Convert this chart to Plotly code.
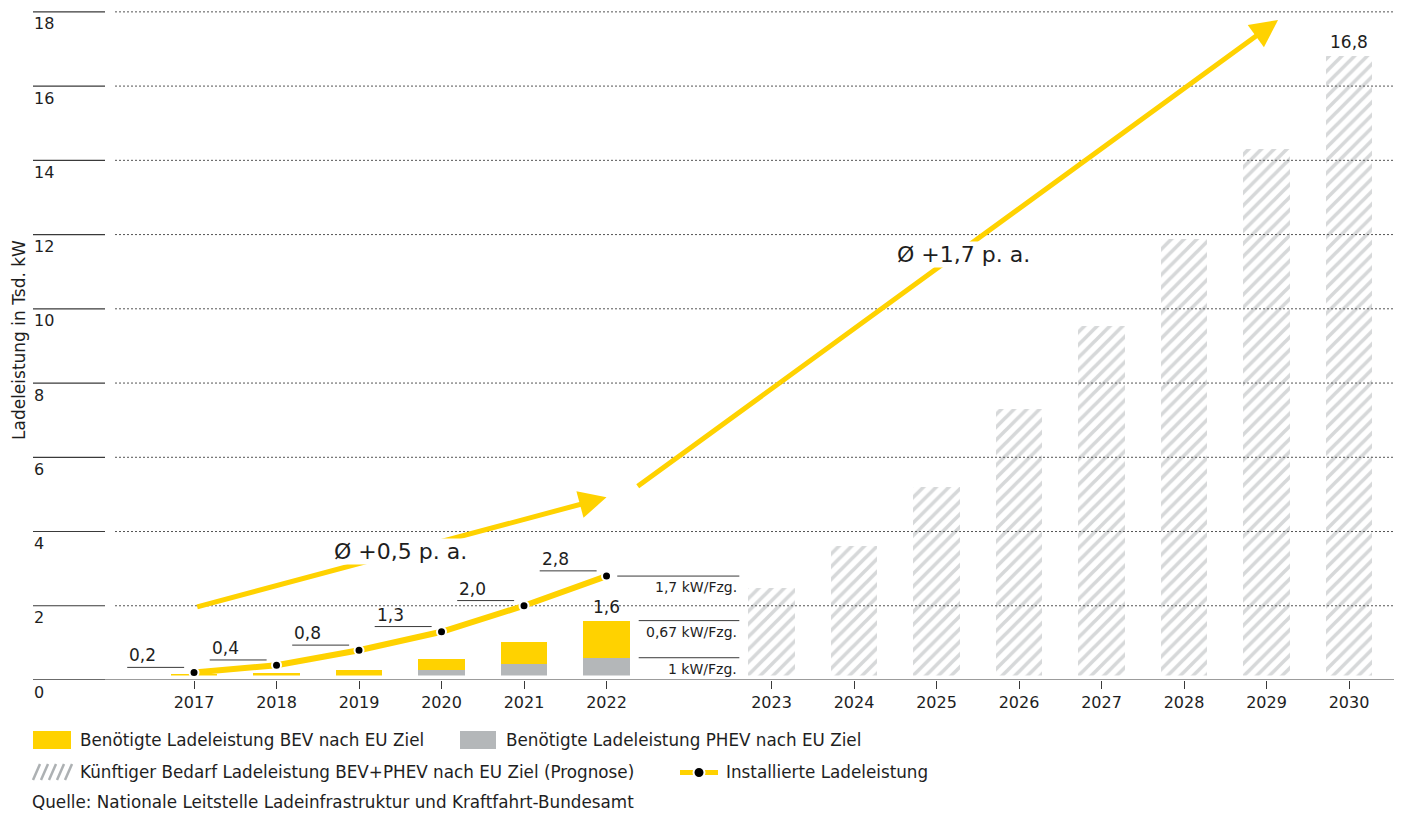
import plotly.graph_objects as go

# --- data -------------------------------------------------------------
hist_years = ["2017", "2018", "2019", "2020", "2021", "2022"]
prog_years = ["2023", "2024", "2025", "2026", "2027", "2028", "2029", "2030"]
bev = [0.15, 0.17, 0.24, 0.30, 0.60, 1.00]          # Tsd. kW
phev = [0.02, 0.02, 0.04, 0.26, 0.42, 0.60]
prognose = [2.47, 3.60, 5.19, 7.29, 9.53, 11.87, 14.30, 16.8]
installiert = [0.2, 0.4, 0.8, 1.3, 2.0, 2.8]
kw_pro_fzg = ["1,7 kW/Fzg.", "0,67 kW/Fzg.", "1 kW/Fzg."]
y_ticks = [0, 2, 4, 6, 8, 10, 12, 14, 16, 18]

YELLOW = "#FFD200"
GRAY = "#B4B7B9"
HATCH = "#ADB1B3"
TXT = "#1E1E1E"
LINE = "#3A3A3A"
FONT = "DejaVu Sans"

# page has an 8px body margin, so the figure is a bit smaller than the window
OFF = 8
W, H = 1394, 805
L, R, T, B = 107, 4, 2, 133
PW, PH = W - L - R, H - T - B
XR = [-0.958, 14.594]
YR = [0, 18.05]
GAP = 0.12   # white gap between bars and baseline


def paper_x(sx):
    return (sx - OFF - L) / PW


def paper_y(sy):
    return (H - B - (sy - OFF)) / PH


def de(v, nd=1):
    return f"{v:.{nd}f}".replace(".", ",")


categories = hist_years + [""] + prog_years
xpos = {c: i for i, c in enumerate(categories)}
hx = [xpos[y] for y in hist_years]
fx = [xpos[y] for y in prog_years]

fig = go.Figure()

fig.add_trace(go.Bar(x=hx, y=phev, width=0.56, marker_color=GRAY, marker_line_width=0))
fig.add_trace(go.Bar(x=hx, y=bev, width=0.56, marker_color=YELLOW, marker_line_width=0))
fig.add_trace(go.Bar(
    x=fx, y=prognose, width=0.56,
    marker=dict(color="white", line_width=0,
                pattern=dict(shape="/", fgcolor=HATCH, bgcolor="white", size=9, solidity=0.4)),
))

# white strip above the baseline (bars start slightly above zero)
fig.add_trace(go.Scatter(
    x=[XR[0], XR[1], XR[1], XR[0]], y=[0, 0, GAP, GAP], fill="toself",
    fillcolor="white", mode="none", hoverinfo="skip",
))

# dotted grid drawn over the bars
gx, gy = [], []
for v in y_ticks[1:]:
    gx += [XR[0], XR[1], None]
    gy += [v, v, None]
fig.add_trace(go.Scatter(x=gx, y=gy, mode="lines", hoverinfo="skip",
                         line=dict(color="#555555", width=1, dash="2px,2px")))

fig.add_trace(go.Scatter(
    x=hx, y=installiert, mode="lines+markers", cliponaxis=False,
    line=dict(color=YELLOW, width=6),
    marker=dict(color="black", size=9, line=dict(color="white", width=2)),
))

shapes = []
ann = []

# baseline and left tick lines
shapes.append(dict(type="line", xref="paper", yref="y", x0=paper_x(33), x1=1, y0=0, y1=0,
                   line=dict(color=LINE, width=1.2)))
for v in y_ticks:
    shapes.append(dict(type="line", xref="paper", yref="y", x0=paper_x(33), x1=paper_x(105),
                       y0=v, y1=v, line=dict(color=LINE, width=1.2)))
    ann.append(dict(xref="paper", yref="y", x=paper_x(32), y=v, text=str(v), showarrow=False,
                    xanchor="left", yanchor="middle", yshift=-12,
                    font=dict(family=FONT, size=16, color=TXT)))

ann.append(dict(xref="paper", yref="paper", x=paper_x(19), y=paper_y(340),
                xanchor="center", yanchor="middle", borderpad=0,
                text="Ladeleistung in Tsd. kW", textangle=-90, showarrow=False,
                font=dict(family=FONT, size=17, color=TXT)))

# labels of installed power
for x, v in zip(hx, installiert):
    yl = v + 0.14
    shapes.append(dict(type="line", xref="x", yref="y", x0=x - 0.81, x1=x - 0.12, y0=yl, y1=yl,
                       line=dict(color=LINE, width=1)))
    ann.append(dict(x=x - 0.81, y=yl, text=de(v), showarrow=False, xanchor="left",
                    yanchor="bottom", font=dict(family=FONT, size=17, color=TXT)))

# totals
ann.append(dict(x=hx[-1], y=bev[-1] + phev[-1], text=de(bev[-1] + phev[-1]), showarrow=False,
                yanchor="bottom", yshift=2, font=dict(family=FONT, size=17, color=TXT)))
ann.append(dict(x=fx[-1], y=prognose[-1], text=de(prognose[-1]), showarrow=False,
                yanchor="bottom", yshift=2, font=dict(family=FONT, size=17, color=TXT)))

# kW per vehicle notes
levels = [installiert[-1], bev[-1] + phev[-1], phev[-1]]
starts = [hx[-1] + 0.13, hx[-1] + 0.39, hx[-1] + 0.39]
for lv, x0, txt in zip(levels, starts, kw_pro_fzg):
    shapes.append(dict(type="line", xref="x", yref="y", x0=x0, x1=hx[-1] + 1.61, y0=lv, y1=lv,
                       line=dict(color=LINE, width=1)))
    ann.append(dict(x=hx[-1] + 1.61, y=lv, text=txt, showarrow=False, xanchor="right",
                    yanchor="top", yshift=-1, font=dict(family=FONT, size=14, color=TXT)))

# growth arrows
for (x0, y0, x1, y1) in [(0.02, 1.96, 5.0, 4.92), (5.36, 5.19, 13.14, 17.78)]:
    ann.append(dict(x=x1, y=y1, ax=x0, ay=y0, xref="x", yref="y", axref="x", ayref="y",
                    text="", showarrow=True, arrowhead=2, arrowsize=1.1, arrowwidth=5,
                    arrowcolor=YELLOW, standoff=0))
ann.append(dict(x=2.5, y=3.45, text="Ø +0,5 p. a.", showarrow=False, bgcolor="white",
                borderpad=0, font=dict(family=FONT, size=22, color=TXT)))
ann.append(dict(x=9.33, y=11.45, text="Ø +1,7 p. a.", showarrow=False, bgcolor="white",
                borderpad=0, font=dict(family=FONT, size=22, color=TXT)))

# legend
def rect(x0, x1, y0, y1, color):
    shapes.append(dict(type="rect", xref="paper", yref="paper", x0=paper_x(x0), x1=paper_x(x1),
                       y0=paper_y(y1), y1=paper_y(y0), fillcolor=color, line_width=0))


def leg_text(x, y, text):
    ann.append(dict(xref="paper", yref="paper", x=paper_x(x), y=paper_y(y), text=text,
                    showarrow=False, xanchor="left", yanchor="middle", borderpad=0,
                    font=dict(family=FONT, size=16.8, color=TXT)))


rect(33, 71, 731, 749, YELLOW)
leg_text(79, 740, "Benötigte Ladeleistung BEV nach EU Ziel")
rect(460, 496, 731, 749, GRAY)
leg_text(505, 740, "Benötigte Ladeleistung PHEV nach EU Ziel")
for k in range(5):
    xs = 33 + k * 8
    shapes.append(dict(type="line", xref="paper", yref="paper", x0=paper_x(xs), x1=paper_x(xs + 7),
                       y0=paper_y(780), y1=paper_y(764), line=dict(color=HATCH, width=2.5)))
leg_text(79, 772, "Künftiger Bedarf Ladeleistung BEV+PHEV nach EU Ziel (Prognose)")
shapes.append(dict(type="line", xref="paper", yref="paper", x0=paper_x(680), x1=paper_x(718),
                   y0=paper_y(772.5), y1=paper_y(772.5), line=dict(color=YELLOW, width=5)))
shapes.append(dict(type="circle", xref="paper", yref="paper", x0=paper_x(693.5), x1=paper_x(704.5),
                   y0=paper_y(778), y1=paper_y(767), fillcolor="black",
                   line=dict(color="white", width=2)))
leg_text(725, 772, "Installierte Ladeleistung")
leg_text(31, 802, "Quelle: Nationale Leitstelle Ladeinfrastruktur und Kraftfahrt-Bundesamt")

fig.update_layout(
    width=W, height=H, margin=dict(l=L, r=R, t=T, b=B),
    paper_bgcolor="white", plot_bgcolor="white",
    barmode="stack", showlegend=False,
    shapes=shapes, annotations=ann,
    xaxis=dict(range=XR, tickmode="array", tickvals=hx + fx, ticktext=hist_years + prog_years,
               ticks="outside", ticklen=8, tickcolor=LINE, showgrid=False, zeroline=False,
               showline=False, tickfont=dict(family=FONT, size=16, color=TXT)),
    yaxis=dict(range=YR, showgrid=False, zeroline=False, showticklabels=False, ticks=""),
)

fig.write_html("out.html")
